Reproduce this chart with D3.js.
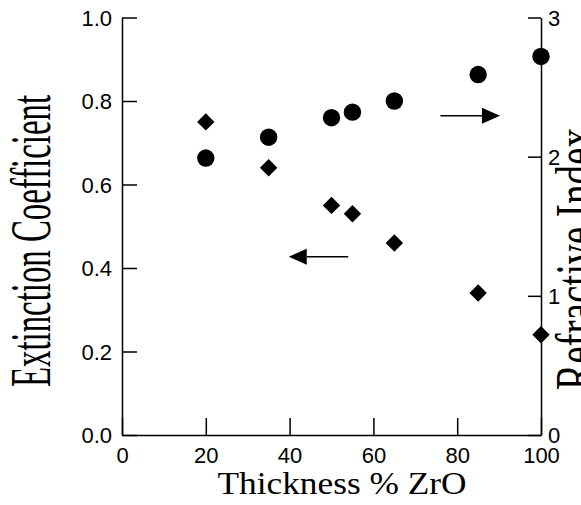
<!DOCTYPE html>
<html lang="en">
<head>
    <meta charset="utf-8">
    <title>Extinction coefficient and refractive index vs thickness</title>
    <style>
    body {
        margin: 0;
        background: white;
    }
    .tick text {
        font-family: "Liberation Sans", Arial, sans-serif;
        font-size: 22px;
        fill: black;
    }
    .axis-title {
        font-family: "Liberation Serif", "Times New Roman", serif;
        fill: black;
    }
    </style>
    <script src="https://d3js.org/d3.v7.min.js"></script>
</head>
<body>
<script type="text/javascript">
// data
const thickness = [20, 35, 50, 55, 65, 85, 100];
const extinction = [0.75, 0.64, 0.55, 0.53, 0.46, 0.34, 0.24];
const refractive = [1.99, 2.14, 2.28, 2.32, 2.40, 2.59, 2.72];

const xTicks = [0, 20, 40, 60, 80, 100];
const leftTicks = [0, 0.2, 0.4, 0.6, 0.8, 1.0];
const rightTicks = [0, 1, 2, 3];

// arrows pointing at the axis each series belongs to: [x0, x1, y]
const arrowLeft = [54, 39.8, 0.427];
const arrowRight = [76, 90.2, 2.294];

const width = 581;
const height = 505;
const svg = d3.select("body").append("svg")
    .attr("width", width)
    .attr("height", height);

const x = d3.scaleLinear().domain([0, 100]).range([122, 541]);
const yL = d3.scaleLinear().domain([0, 1]).range([435, 17.5]);
const yR = d3.scaleLinear().domain([0, 3]).range([435, 17.5]);

// axes, ticks point inward
const xAxis = d3.axisBottom(x).tickValues(xTicks).tickFormat(d3.format("d"))
    .tickSizeInner(-17).tickSizeOuter(0).tickPadding(28);
const leftAxis = d3.axisLeft(yL).tickValues(leftTicks).tickFormat(d3.format(".1f"))
    .tickSizeInner(-15).tickSizeOuter(0).tickPadding(10);
const rightAxis = d3.axisRight(yR).tickValues(rightTicks).tickFormat(d3.format("d"))
    .tickSizeInner(-13).tickSizeOuter(0).tickPadding(7);

function styleAxis(g) {
    g.select(".domain").attr("stroke", "black").attr("stroke-width", 1.5);
    g.selectAll(".tick line").attr("stroke", "black").attr("stroke-width", 1.5);
}

svg.append("g")
    .attr("transform", "translate(0,435)")
    .call(xAxis)
    .call(styleAxis)
    .selectAll(".tick text").attr("dy", "0");

svg.append("g")
    .attr("transform", "translate(122,0)")
    .call(leftAxis)
    .call(styleAxis)
    .selectAll(".tick text").attr("dy", "0.36em");

svg.append("g")
    .attr("transform", "translate(541,0)")
    .call(rightAxis)
    .call(styleAxis)
    .selectAll(".tick text").attr("dy", "0.36em");

// axis titles
svg.append("text")
    .attr("class", "axis-title")
    .attr("x", 342)
    .attr("y", 494)
    .attr("text-anchor", "middle")
    .attr("font-size", 32)
    .attr("textLength", 249)
    .attr("lengthAdjust", "spacingAndGlyphs")
    .text("Thickness % ZrO");

svg.append("text")
    .attr("class", "axis-title")
    .attr("transform", "translate(50,241) rotate(-90) scale(1,1.7)")
    .attr("text-anchor", "middle")
    .attr("font-size", 33)
    .attr("textLength", 292)
    .attr("lengthAdjust", "spacingAndGlyphs")
    .text("Extinction Coefficient");

svg.append("text")
    .attr("class", "axis-title")
    .attr("transform", "translate(595,259) rotate(-90) scale(1,1.7)")
    .attr("text-anchor", "middle")
    .attr("font-size", 33)
    .attr("textLength", 262)
    .attr("lengthAdjust", "spacingAndGlyphs")
    .text("Refractive Index");

// diamonds: extinction coefficient (left axis)
const diamond = d3.symbol().type(d3.symbolSquare).size(151);
svg.append("g").selectAll("path")
    .data(thickness)
    .enter()
    .append("path")
    .attr("d", diamond)
    .attr("transform", (d, i) => `translate(${x(d)},${yL(extinction[i])}) rotate(45)`)
    .attr("fill", "black");

// circles: refractive index (right axis)
svg.append("g").selectAll("circle")
    .data(thickness)
    .enter()
    .append("circle")
    .attr("cx", d => x(d))
    .attr("cy", (d, i) => yR(refractive[i]))
    .attr("r", 8.7)
    .attr("fill", "black");

function arrow(x0, x1, y) {
    const dir = x1 > x0 ? 1 : -1;
    const head = 18;
    svg.append("line")
        .attr("x1", x0).attr("x2", x1 - dir * head)
        .attr("y1", y).attr("y2", y)
        .attr("stroke", "black")
        .attr("stroke-width", 1.5);
    svg.append("path")
        .attr("d", `M${x1},${y} L${x1 - dir * head},${y - 8} L${x1 - dir * head},${y + 8} Z`)
        .attr("fill", "black");
}
arrow(x(arrowLeft[0]), x(arrowLeft[1]), yL(arrowLeft[2]));
arrow(x(arrowRight[0]), x(arrowRight[1]), yR(arrowRight[2]));
</script>
</body>
</html>
